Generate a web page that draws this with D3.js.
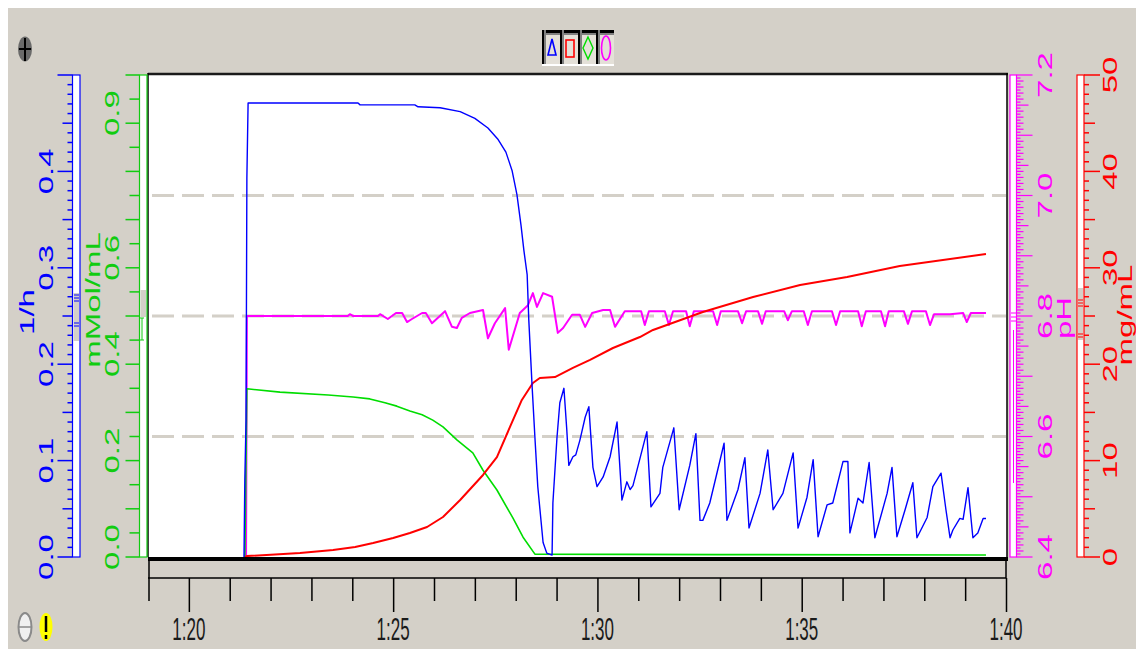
<!DOCTYPE html>
<html><head><meta charset="utf-8">
<script src="https://cdn.jsdelivr.net/npm/d3@7"></script>
<style>
body{margin:0;background:#fff;}
svg{display:block;}
text{font-family:"Liberation Sans",Arial,sans-serif;}
</style>
</head><body>
<svg id="c" width="1136" height="649"></svg>
<script>
// ---------- DATA (time in minutes after 0:00, i.e. 81.5 = 1:21:30) ----------
const blueT=[81.35,81.37,81.40,81.42,81.45,84.14,84.19,85.53,85.61,86.15,86.64,87.00,87.32,87.57,87.76,87.91,88.03,88.13,88.20,88.28,88.32,88.40,88.47,88.54,88.67,88.76,88.89,88.91,89.01,89.08,89.18,89.25,89.30,89.40,89.47,89.57,89.70,89.79,89.89,89.99,90.14,90.31,90.48,90.60,90.72,90.80,90.87,91.21,91.31,91.53,91.60,91.87,92.00,92.26,92.41,92.51,92.58,92.75,93.10,93.17,93.44,93.61,93.71,93.98,94.17,94.30,94.54,94.79,94.91,95.13,95.28,95.40,95.62,95.76,96.01,96.13,96.18,96.38,96.50,96.65,96.79,97.09,97.21,97.33,97.53,97.72,97.82,98.07,98.21,98.41,98.53,98.63,98.70,98.87,98.95,99.07,99.19,99.31,99.44,99.51];
const blueV=[0,0.080,0.142,0.393,0.471,0.471,0.469,0.469,0.467,0.466,0.462,0.455,0.445,0.433,0.420,0.401,0.376,0.344,0.318,0.293,0.246,0.178,0.124,0.073,0.015,0.004,0.002,0.056,0.124,0.160,0.175,0.132,0.095,0.104,0.106,0.121,0.145,0.156,0.093,0.073,0.083,0.104,0.140,0.059,0.078,0.070,0.074,0.130,0.052,0.066,0.093,0.134,0.049,0.095,0.128,0.038,0.038,0.056,0.118,0.038,0.070,0.103,0.030,0.066,0.111,0.049,0.066,0.108,0.030,0.062,0.101,0.021,0.054,0.056,0.099,0.099,0.025,0.061,0.056,0.098,0.020,0.066,0.093,0.021,0.049,0.077,0.020,0.041,0.073,0.087,0.049,0.020,0.028,0.040,0.039,0.072,0.020,0.025,0.040,0.040];

const greenT=[81.37,81.42,82.23,83.41,84.02,84.43,84.80,85.09,85.41,85.71,85.97,86.22,86.56,86.95,87.20,87.54,87.93,88.18,88.47,93.00,99.51];
const greenV=[0,0.349,0.342,0.336,0.332,0.328,0.320,0.313,0.303,0.295,0.284,0.270,0.243,0.216,0.180,0.139,0.081,0.041,0.006,0.005,0.004];

const redT=[81.37,81.42,82.72,83.53,84.07,84.51,85.00,85.41,85.83,86.22,86.64,87.20,87.54,87.86,88.15,88.42,88.59,88.96,89.40,89.82,90.38,91.04,91.36,92.58,93.81,94.96,96.11,97.40,99.51];
const redV=[0,0.10,0.41,0.73,1.04,1.45,1.97,2.49,3.11,4.15,5.91,8.51,10.37,13.49,16.29,18.05,18.57,18.67,19.61,20.44,21.68,22.82,23.55,25.41,26.97,28.22,29.05,30.19,31.43];

const phT=[81.40,81.42,83.89,83.94,84.02,84.63,84.68,84.87,85.07,85.22,85.34,85.46,85.71,85.80,85.95,86.27,86.44,86.56,86.68,86.88,87.20,87.32,87.49,87.74,87.83,88.10,88.30,88.42,88.52,88.67,88.89,89.03,89.16,89.38,89.57,89.70,89.87,90.14,90.31,90.43,90.67,91.07,91.16,91.26,91.65,91.75,91.85,92.17,92.26,92.36,92.83,92.93,93.02,93.44,93.54,93.64,93.93,94.03,94.12,94.57,94.66,94.76,95.05,95.15,95.25,95.74,95.84,95.94,96.38,96.47,96.57,96.94,97.04,97.13,97.50,97.60,97.70,98.04,98.14,98.24,98.63,98.95,99.04,99.14,99.51];
const phV=[6.40,6.80,6.800,6.803,6.800,6.800,6.803,6.795,6.805,6.805,6.790,6.795,6.805,6.805,6.788,6.808,6.782,6.780,6.797,6.805,6.810,6.763,6.788,6.813,6.744,6.805,6.818,6.838,6.815,6.838,6.832,6.772,6.780,6.802,6.802,6.782,6.805,6.810,6.810,6.782,6.808,6.808,6.785,6.808,6.808,6.785,6.808,6.808,6.783,6.808,6.808,6.785,6.808,6.808,6.788,6.808,6.808,6.787,6.808,6.808,6.793,6.808,6.808,6.785,6.808,6.808,6.785,6.808,6.808,6.783,6.808,6.808,6.783,6.808,6.808,6.787,6.808,6.808,6.785,6.803,6.803,6.805,6.790,6.805,6.805];

// axis tick labels
const xTickValues=[80,85,90,95,100];
const blueTickValues=[0,0.1,0.2,0.3,0.4];
const blueTickLabels=["0.0","0.1","0.2","0.3","0.4"];
const greenTickValues=[0,0.2,0.4,0.6,0.9];
const greenTickLabels=["0.0","0.2","0.4","0.6","0.9"];
const phTickValues=[6.4,6.6,6.8,7.0,7.2];
const phTickLabels=["6.4","6.6","6.8","7.0","7.2"];
const redTickValues=[0,10,20,30,40,50];
const redTickLabels=["0","10","20","30","40","50"];

// ---------- LAYOUT ----------
const W=1136,H=649;
const L=148,R=1006,T=75,B=557;
const BG="#d4d0c8";
const C={blue:"#0000ff",green:"#00dd00",greenAx:"#11cc11",red:"#ff0000",mag:"#ff00ff"};

const svg=d3.select("#c");
svg.append("rect").attr("width",W).attr("height",H).attr("fill","#ffffff");
svg.append("rect").attr("x",8).attr("y",8).attr("width",W-8).attr("height",H-8).attr("fill",BG);

const x=d3.scaleLinear().domain([79,100]).range([L,R]);
const yBlue=d3.scaleLinear().domain([0,0.5]).range([B,T]);
const yGreen=d3.scaleLinear().domain([0,1]).range([B,T]);
const yPh=d3.scaleLinear().domain([6.4,7.2]).range([B,T]);
const yRed=d3.scaleLinear().domain([0,50]).range([B,T]);

// plot area
svg.append("rect").attr("x",L).attr("y",T).attr("width",R-L+1).attr("height",B-T).attr("fill","#fff");
// grid dashed lines (at pH ticks)
svg.append("g").selectAll("line").data([6.6,6.8,7.0]).join("line")
  .attr("x1",152).attr("x2",R).attr("y1",d=>yPh(d)).attr("y2",d=>yPh(d))
  .attr("stroke","#d4d0c8").attr("stroke-width",3).attr("stroke-dasharray","22,8");

// series
svg.append("clipPath").attr("id","clip").append("rect").attr("x",L).attr("y",T-1).attr("width",R-L).attr("height",B-T+1);
const gS=svg.append("g").attr("clip-path","url(#clip)");
function draw(ts,vs,ys,color,w){
  const pts=ts.map((t,i)=>[t,vs[i]]);
  gS.append("path").datum(pts)
    .attr("d",d3.line().x(d=>x(d[0])).y(d=>ys(d[1])))
    .attr("fill","none").attr("stroke",color).attr("stroke-width",w).attr("stroke-linejoin","round");
}
draw(phT,phV,yPh,C.mag,2);
draw(greenT,greenV,yGreen,C.green,1.6);
draw(redT,redV,yRed,C.red,2);
draw(blueT,blueV,yBlue,C.blue,1.4);

// plot border
svg.append("line").attr("x1",L).attr("x2",R+2).attr("y1",T-1).attr("y2",T-1).attr("stroke","#1a1a1a").attr("stroke-width",2.5);
svg.append("line").attr("x1",R+1).attr("x2",R+1).attr("y1",T-2).attr("y2",B).attr("stroke","#000").attr("stroke-width",1.5);
svg.append("line").attr("x1",L).attr("x2",L).attr("y1",T-2).attr("y2",B).attr("stroke","#000").attr("stroke-width",1.5);
svg.append("rect").attr("x",L).attr("y",B).attr("width",R-L+2).attr("height",4).attr("fill","#000");

// x axis band
svg.append("line").attr("x1",L).attr("x2",R).attr("y1",578).attr("y2",578).attr("stroke","#000").attr("stroke-width",1.5);
svg.append("line").attr("x1",L+1).attr("x2",L+1).attr("y1",560).attr("y2",601).attr("stroke","#000").attr("stroke-width",1.5);
svg.append("line").attr("x1",R).attr("x2",R).attr("y1",560).attr("y2",578).attr("stroke","#000").attr("stroke-width",1.5);
const minorX=d3.range(80,100).filter(v=>v%5!==0);
const gx1=svg.append("g").attr("transform","translate(0,578)").call(d3.axisBottom(x).tickValues(minorX).tickSize(23).tickFormat(""));
const gx2=svg.append("g").attr("transform","translate(0,578)").call(d3.axisBottom(x).tickValues(xTickValues).tickSize(34).tickFormat(""));
[gx1,gx2].forEach(g=>{g.select(".domain").remove();g.selectAll("line").attr("stroke","#000").attr("stroke-width",1.5);});
const fmtT=m=>Math.floor(m/60)+":"+String(Math.round(m%60)).padStart(2,"0");
svg.append("g").selectAll("text").data(xTickValues).join("text")
  .attr("transform",d=>`translate(${x(d)},640) scale(1,1.9)`)
  .attr("text-anchor","middle").attr("font-size",17).attr("fill","#1a1a1a").text(fmtT);

// ---------- vertical axes ----------
function vText(g,cx,cy,str,color,size,sx){
  g.append("text").attr("transform",`translate(${cx},${cy}) rotate(-90) scale(${sx},1)`)
   .attr("text-anchor","middle").attr("y",size*0.36).attr("font-size",size).attr("fill",color).text(str);
}
const gA=svg.append("g");
// Blue axis (left)
gA.append("rect").attr("x",72.5).attr("y",T).attr("width",7.5).attr("height",B-T).attr("fill","#fff").attr("stroke",C.blue).attr("stroke-width",1.2);
gA.append("rect").attr("x",73.5).attr("y",293).attr("width",5.5).attr("height",48).attr("fill",BG);
[295,298,301,323,326].forEach(yy=>gA.append("line").attr("x1",74).attr("x2",79).attr("y1",yy).attr("y2",yy).attr("stroke",C.blue).attr("stroke-width",1));
d3.range(0,51).forEach(i=>{
  const len=i%10===0?15:(i%5===0?10:5);
  gA.append("line").attr("x1",72.5-len).attr("x2",72.5).attr("y1",yBlue(i/100)).attr("y2",yBlue(i/100)).attr("stroke",C.blue).attr("stroke-width",1.5);
});
blueTickValues.forEach((v,i)=>vText(gA,46,yBlue(v),blueTickLabels[i],C.blue,20,1.65));
vText(gA,27,312,"1/h",C.blue,20,1.65);

// Green axis
gA.append("rect").attr("x",139.5).attr("y",T).attr("width",7.5).attr("height",B-T).attr("fill","#fff").attr("stroke",C.greenAx).attr("stroke-width",1.2);
gA.append("rect").attr("x",140.5).attr("y",290).attr("width",5.5).attr("height",27).attr("fill",BG);
gA.append("line").attr("x1",142).attr("x2",142).attr("y1",318).attr("y2",340).attr("stroke",C.greenAx).attr("stroke-width",1);
gA.append("line").attr("x1",140).attr("x2",144).attr("y1",318).attr("y2",318).attr("stroke",C.greenAx).attr("stroke-width",1);
gA.append("line").attr("x1",140).attr("x2",144).attr("y1",340).attr("y2",340).attr("stroke",C.greenAx).attr("stroke-width",1);
d3.range(0,21).forEach(i=>{
  const len=i%2===0?14:10;
  gA.append("line").attr("x1",139.5-len).attr("x2",139.5).attr("y1",yGreen(i/20)).attr("y2",yGreen(i/20)).attr("stroke",C.greenAx).attr("stroke-width",1.5);
});
greenTickValues.forEach((v,i)=>vText(gA,112,Math.min(yGreen(v)-10,550),greenTickLabels[i],C.greenAx,20,1.65));
vText(gA,93,300,"mMol/mL",C.greenAx,20,1.65);

// pH axis (right)
gA.append("rect").attr("x",1010).attr("y",T).attr("width",6.5).attr("height",B-T).attr("fill","#fff").attr("stroke",C.mag).attr("stroke-width",1.2);
gA.append("line").attr("x1",1013.5).attr("x2",1013.5).attr("y1",330).attr("y2",483).attr("stroke",C.mag).attr("stroke-width",1);
[313,317,321].forEach(yy=>gA.append("line").attr("x1",1011).attr("x2",1016).attr("y1",yy).attr("y2",yy).attr("stroke",C.mag).attr("stroke-width",1));
d3.range(0,161).forEach(i=>{
  const len=i%20===0?16:(i%10===0?12:(i%2===0?7:4));
  const yy=yPh(6.4+i*0.005);
  gA.append("line").attr("x1",1016.5).attr("x2",1016.5+len).attr("y1",yy).attr("y2",yy).attr("stroke",C.mag).attr("stroke-width",1.2);
});
phTickValues.forEach((v,i)=>vText(gA,1044.5,yPh(v),phTickLabels[i],C.mag,20,1.65));
vText(gA,1064,318,"pH",C.mag,20,1.65);

// Red axis
gA.append("rect").attr("x",1077).attr("y",T).attr("width",7).attr("height",B-T).attr("fill","#fff").attr("stroke",C.red).attr("stroke-width",1.2);
gA.append("rect").attr("x",1078).attr("y",288).attr("width",5).attr("height",52).attr("fill",BG);
[300,303,306,334,337].forEach(yy=>gA.append("line").attr("x1",1078).attr("x2",1083).attr("y1",yy).attr("y2",yy).attr("stroke",C.red).attr("stroke-width",1));
d3.range(0,51).forEach(i=>{
  const len=i%10===0?16:(i%5===0?11:5);
  gA.append("line").attr("x1",1084).attr("x2",1084+len).attr("y1",yRed(i)).attr("y2",yRed(i)).attr("stroke",C.red).attr("stroke-width",1.5);
});
redTickValues.forEach((v,i)=>vText(gA,1110,yRed(v),redTickLabels[i],C.red,20,1.65));
vText(gA,1125,315,"mg/mL",C.red,20,1.65);

// ---------- legend buttons ----------
const gL=svg.append("g");
const legendColors=[C.blue,C.red,C.green,C.mag];
legendColors.forEach((col,i)=>{
  const bx=542+i*18, by=30;
  gL.append("rect").attr("x",bx).attr("y",by).attr("width",18).attr("height",36).attr("fill","#e4e0d8");
  gL.append("rect").attr("x",bx).attr("y",by).attr("width",18).attr("height",3).attr("fill","#000");
  gL.append("rect").attr("x",bx).attr("y",by+3).attr("width",18).attr("height",2).attr("fill","#808080");
  gL.append("rect").attr("x",bx).attr("y",by).attr("width",2).attr("height",36).attr("fill","#000");
  gL.append("rect").attr("x",bx+2).attr("y",by).attr("width",2).attr("height",36).attr("fill","#808080");
  gL.append("rect").attr("x",bx).attr("y",by+34).attr("width",18).attr("height",2).attr("fill","#fff");
  const cx=bx+10, cy=48;
  if(i===0) gL.append("path").attr("d",`M${cx},${cy-9}L${cx+4},${cy+7}L${cx-4},${cy+7}Z`).attr("fill","none").attr("stroke",col).attr("stroke-width",1.6);
  if(i===1) gL.append("rect").attr("x",cx-4).attr("y",cy-8).attr("width",8).attr("height",17).attr("fill","none").attr("stroke",col).attr("stroke-width",1.6);
  if(i===2) gL.append("path").attr("d",`M${cx},${cy-11}L${cx+5},${cy}L${cx},${cy+11}L${cx-5},${cy}Z`).attr("fill","none").attr("stroke",col).attr("stroke-width",1.4);
  if(i===3) gL.append("ellipse").attr("cx",cx).attr("cy",cy).attr("rx",4.5).attr("ry",12).attr("fill","none").attr("stroke",col).attr("stroke-width",1.6);
});

// ---------- icons ----------
svg.append("ellipse").attr("cx",25).attr("cy",49).attr("rx",7).attr("ry",12.5).attr("fill","#6a6a6a");
svg.append("line").attr("x1",25).attr("x2",25).attr("y1",38).attr("y2",61).attr("stroke","#000").attr("stroke-width",2);
svg.append("line").attr("x1",19).attr("x2",31).attr("y1",49).attr("y2",49).attr("stroke","#000").attr("stroke-width",2);
svg.append("ellipse").attr("cx",25).attr("cy",627).attr("rx",6.5).attr("ry",14).attr("fill","#f0f0f0").attr("stroke","#8a8a8a").attr("stroke-width",2);
svg.append("line").attr("x1",19).attr("x2",31).attr("y1",627).attr("y2",627).attr("stroke","#8a8a8a").attr("stroke-width",1.5);
svg.append("ellipse").attr("cx",46).attr("cy",627).attr("rx",6.5).attr("ry",14).attr("fill","#ffff00");
svg.append("line").attr("x1",46).attr("x2",46).attr("y1",616).attr("y2",632).attr("stroke","#000").attr("stroke-width",2.5);
svg.append("line").attr("x1",46).attr("x2",46).attr("y1",635).attr("y2",639).attr("stroke","#000").attr("stroke-width",2.5);
</script>
</body></html>
